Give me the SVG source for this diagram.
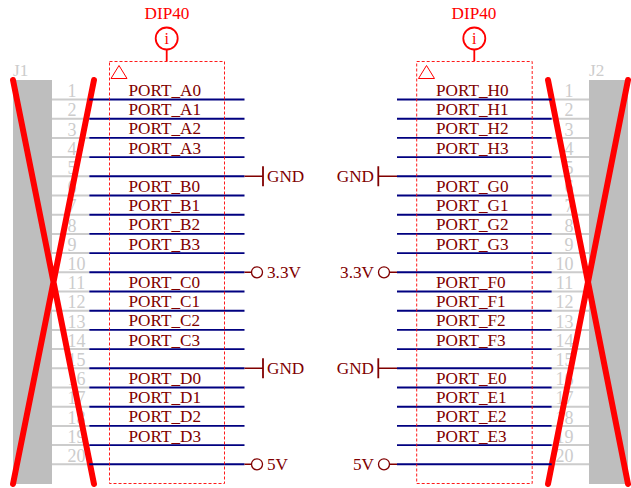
<svg xmlns="http://www.w3.org/2000/svg" width="631" height="488" viewBox="0 0 631 488">
<defs>
<style>
text{font-family:"Liberation Serif","Times New Roman",serif;font-size:17.2px}
.r{fill:#ff0000}.p{fill:#800000}.g{fill:#cccccc}
.n{fill:#cccccc;font-size:18px;text-anchor:middle}
.m{text-anchor:middle}.e{text-anchor:end}
.pin{stroke:#cccccc;stroke-width:2;fill:none}
.wire{stroke:#000080;stroke-width:1.9;fill:none}
.stub{stroke:#800000;stroke-width:1.5;fill:none}
.bar{stroke:#800000;stroke-width:1.8;fill:none}
.dash{stroke:#ff0000;stroke-width:.9;stroke-dasharray:3 2;fill:none}
.x{stroke:#ff0000;stroke-width:6;stroke-linecap:round;fill:none}
.sym{stroke:#ff0000;stroke-width:1;fill:none}
.info{stroke:#ff0000;stroke-width:1.8;fill:#ffffff}
.pc{stroke:#800000;stroke-width:1.3;fill:#ffffff}
</style>
</defs>
<rect width="631" height="488" fill="#ffffff"/>
<g id="J1">
<rect x="13" y="80" width="39" height="404" fill="#bebebe"/>
<text class="g" x="13" y="76">J1</text>
<path class="pin" d="M52 99.5H89M52 118.7H89M52 137.9H89M52 157.1H89M52 176.3H89M52 195.5H89M52 214.7H89M52 233.9H89M52 253.1H89M52 272.3H89M52 291.5H89M52 310.7H89M52 329.9H89M52 349.1H89M52 368.3H89M52 387.5H89M52 406.7H89M52 425.9H89M52 445.1H89M52 464.3H89"/>
<g>
<text class="n" x="72" y="97">1</text><text class="n" x="72" y="116">2</text><text class="n" x="72" y="135.500">3</text><text class="n" x="72" y="154.500">4</text><text class="n" x="72" y="173.500">5</text><text class="n" x="72" y="193">6</text><text class="n" x="72" y="212">7</text><text class="n" x="72" y="231.500">8</text><text class="n" x="72" y="250.500">9</text><text class="n" x="76.500" y="269.500">10</text><text class="n" x="76.500" y="289">11</text><text class="n" x="76.500" y="308">12</text><text class="n" x="76.500" y="327.500">13</text><text class="n" x="76.500" y="346.500">14</text><text class="n" x="76.500" y="365.500">15</text><text class="n" x="76.500" y="385">16</text><text class="n" x="76.500" y="404">17</text><text class="n" x="76.500" y="423.500">18</text><text class="n" x="76.500" y="442.500">19</text><text class="n" x="76.500" y="461.500">20</text>
</g>
<path class="x" d="M13 80L94 484M94 80L13 484"/>
</g>
<g id="J2">
<rect x="589" y="80" width="39" height="404" fill="#bebebe"/>
<text class="g" x="589" y="76">J2</text>
<path class="pin" d="M552 99.5H589M552 118.7H589M552 137.9H589M552 157.1H589M552 176.3H589M552 195.5H589M552 214.7H589M552 233.9H589M552 253.1H589M552 272.3H589M552 291.5H589M552 310.7H589M552 329.9H589M552 349.1H589M552 368.3H589M552 387.5H589M552 406.7H589M552 425.9H589M552 445.1H589M552 464.3H589"/>
<g>
<text class="n" x="569" y="97">1</text><text class="n" x="569" y="116">2</text><text class="n" x="569" y="135.500">3</text><text class="n" x="569" y="154.500">4</text><text class="n" x="569" y="173.500">5</text><text class="n" x="569" y="193">6</text><text class="n" x="569" y="212">7</text><text class="n" x="569" y="231.500">8</text><text class="n" x="569" y="250.500">9</text><text class="n" x="564.500" y="269.500">10</text><text class="n" x="564.500" y="289">11</text><text class="n" x="564.500" y="308">12</text><text class="n" x="564.500" y="327.500">13</text><text class="n" x="564.500" y="346.500">14</text><text class="n" x="564.500" y="365.500">15</text><text class="n" x="564.500" y="385">16</text><text class="n" x="564.500" y="404">17</text><text class="n" x="564.500" y="423.500">18</text><text class="n" x="564.500" y="442.500">19</text><text class="n" x="564.500" y="461.500">20</text>
</g>
<path class="x" d="M548 80L628 484M628 80L548 484"/>
</g>
<g id="connectors">
<path class="wire" d="M89.300 99.5H244.500M89.300 118.700H244.500M89.300 137.900H244.500M89.300 157.100H244.500M89.300 176.300H244.500M89.300 195.500H244.500M89.300 214.700H244.500M89.300 233.900H244.500M89.300 253.100H244.500M89.300 272.300H244.500M89.300 291.500H244.500M89.300 310.700H244.500M89.300 329.900H244.500M89.300 349.100H244.500M89.300 368.300H244.500M89.300 387.500H244.500M89.300 406.700H244.500M89.300 425.900H244.500M89.300 445.100H244.500M89.300 464.300H244.500"/>
<path class="wire" d="M397 99.5H551.700M397 118.700H551.700M397 137.900H551.700M397 157.100H551.700M397 176.300H551.700M397 195.500H551.700M397 214.700H551.700M397 233.900H551.700M397 253.100H551.700M397 272.300H551.700M397 291.500H551.700M397 310.700H551.700M397 329.900H551.700M397 349.100H551.700M397 368.300H551.700M397 387.500H551.700M397 406.700H551.700M397 425.900H551.700M397 445.100H551.700M397 464.300H551.700"/>
<path class="stub" d="M244.500 176.300H263M244.500 272.300H251.500M244.500 368.300H263M244.500 464.300H251.500M397 176.300H378.500M397 272.300H390M397 368.300H378.500M397 464.300H390"/>
</g>
<g id="U1">
<rect class="dash" x="109.500" y="61.500" width="115" height="422"/>
<path class="sym" d="M111 78.500H127L119 65.500Z"/>
<text class="r m" x="167" y="19">DIP40</text>
<path d="M166.700 50V61" stroke="#ff0000" stroke-width="1.800" fill="none"/>
<circle class="info" cx="166.700" cy="38.500" r="11"/>
<text class="r m" x="166.700" y="44" style="font-size:16px">i</text>
<text class="p" x="128.500" y="96">PORT_A0</text><text class="p" x="128.500" y="115">PORT_A1</text><text class="p" x="128.500" y="134">PORT_A2</text><text class="p" x="128.500" y="153.500">PORT_A3</text>
<text class="p" x="128.500" y="192">PORT_B0</text><text class="p" x="128.500" y="211">PORT_B1</text><text class="p" x="128.500" y="230">PORT_B2</text><text class="p" x="128.500" y="249.500">PORT_B3</text>
<text class="p" x="128.500" y="288">PORT_C0</text><text class="p" x="128.500" y="307">PORT_C1</text><text class="p" x="128.500" y="326">PORT_C2</text><text class="p" x="128.500" y="345.500">PORT_C3</text>
<text class="p" x="128.500" y="384">PORT_D0</text><text class="p" x="128.500" y="403">PORT_D1</text><text class="p" x="128.500" y="422">PORT_D2</text><text class="p" x="128.500" y="441.500">PORT_D3</text>
</g>
<g id="U2">
<rect class="dash" x="416.700" y="61.500" width="115.500" height="422"/>
<path class="sym" d="M418.500 78.500H434.500L426.500 65.500Z"/>
<text class="r m" x="474" y="19">DIP40</text>
<path d="M474.300 50V61" stroke="#ff0000" stroke-width="1.800" fill="none"/>
<circle class="info" cx="474.300" cy="38.500" r="11"/>
<text class="r m" x="474.300" y="44" style="font-size:16px">i</text>
<text class="p" x="436" y="96">PORT_H0</text><text class="p" x="436" y="115">PORT_H1</text><text class="p" x="436" y="134">PORT_H2</text><text class="p" x="436" y="153.500">PORT_H3</text>
<text class="p" x="436" y="192">PORT_G0</text><text class="p" x="436" y="211">PORT_G1</text><text class="p" x="436" y="230">PORT_G2</text><text class="p" x="436" y="249.500">PORT_G3</text>
<text class="p" x="436" y="288">PORT_F0</text><text class="p" x="436" y="307">PORT_F1</text><text class="p" x="436" y="326">PORT_F2</text><text class="p" x="436" y="345.500">PORT_F3</text>
<text class="p" x="436" y="384">PORT_E0</text><text class="p" x="436" y="403">PORT_E1</text><text class="p" x="436" y="422">PORT_E2</text><text class="p" x="436" y="441.500">PORT_E3</text>
</g>
<g id="pwr-left">
<path class="bar" d="M263 166.300V186.300M263 358.300V378.300"/>
<circle class="pc" cx="257" cy="272.300" r="5.500"/>
<circle class="pc" cx="257" cy="464.300" r="5.500"/>
<text class="p" x="267" y="182">GND</text>
<text class="p" x="267" y="278">3.3V</text>
<text class="p" x="267" y="374">GND</text>
<text class="p" x="267" y="470">5V</text>
</g>
<g id="pwr-right">
<path class="bar" d="M378.300 166.300V186.300M378.300 358.300V378.300"/>
<circle class="pc" cx="384" cy="272.300" r="5.500"/>
<circle class="pc" cx="384" cy="464.300" r="5.500"/>
<text class="p e" x="374" y="182">GND</text>
<text class="p e" x="374" y="278">3.3V</text>
<text class="p e" x="374" y="374">GND</text>
<text class="p e" x="374" y="470">5V</text>
</g>
</svg>
